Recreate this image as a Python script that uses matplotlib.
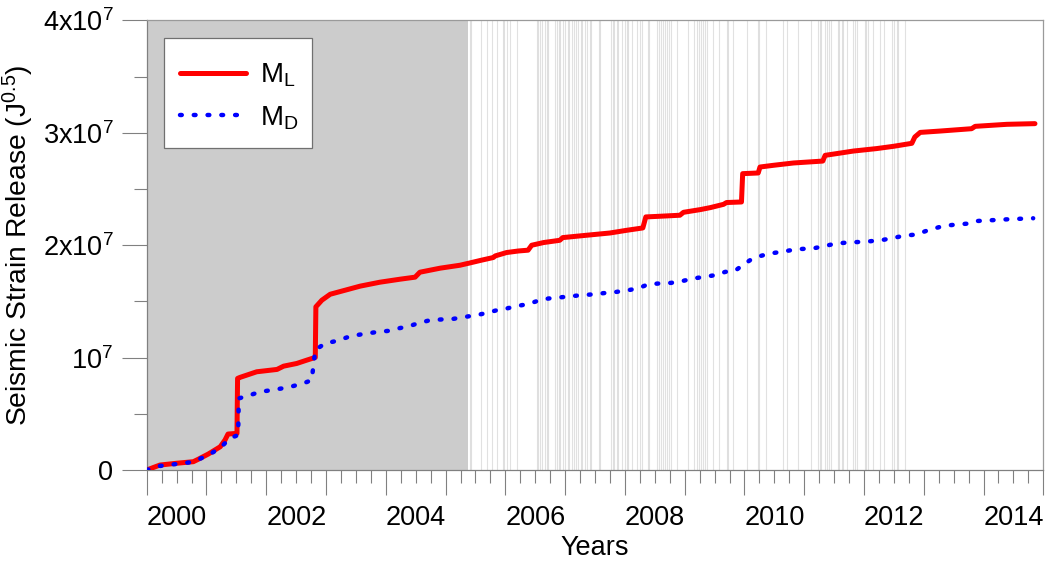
import numpy as np
import matplotlib
matplotlib.use("Agg")
import matplotlib.pyplot as plt
from matplotlib.ticker import MultipleLocator, FuncFormatter
from matplotlib.patches import Rectangle

plt.rcParams['font.family'] = ['Liberation Sans', 'DejaVu Sans']
plt.rcParams['mathtext.fontset'] = 'custom'
plt.rcParams['mathtext.rm'] = 'Liberation Sans'
plt.rcParams['mathtext.it'] = 'Liberation Sans:italic'
plt.rcParams['mathtext.bf'] = 'Liberation Sans:bold'

# Cumulative strain release, M_L (years, units of 1e7 J^0.5)
ml_years = [2000.00, 2000.22, 2000.50, 2000.78, 2000.86, 2001.03, 2001.23, 2001.31, 2001.36,
            2001.51, 2001.52, 2001.56, 2001.84, 2002.18, 2002.29, 2002.51, 2002.68, 2002.82,
            2002.83, 2002.93, 2003.07, 2003.32, 2003.57, 2003.90, 2004.24, 2004.49, 2004.57,
            2004.91, 2005.24, 2005.41, 2005.60, 2005.80, 2005.83, 2006.02, 2006.22, 2006.38,
            2006.44, 2006.64, 2006.91, 2006.96, 2007.36, 2007.75, 2008.03, 2008.30, 2008.35,
            2008.59, 2008.92, 2008.98, 2009.26, 2009.43, 2009.65, 2009.70, 2009.95, 2009.97,
            2010.23, 2010.26, 2010.48, 2010.82, 2011.31, 2011.35, 2011.60, 2011.82, 2012.21,
            2012.49, 2012.80, 2012.85, 2012.94, 2013.27, 2013.80, 2013.86, 2014.39, 2014.86]
ml_vals = [0.000, 0.044, 0.060, 0.074, 0.095, 0.142, 0.207, 0.267, 0.320,
           0.326, 0.815, 0.824, 0.874, 0.895, 0.924, 0.948, 0.978, 1.002,
           1.452, 1.511, 1.564, 1.600, 1.636, 1.671, 1.698, 1.716, 1.760,
           1.796, 1.822, 1.843, 1.867, 1.891, 1.905, 1.935, 1.949, 1.956,
           2.000, 2.024, 2.044, 2.068, 2.089, 2.109, 2.133, 2.154, 2.252,
           2.258, 2.267, 2.293, 2.317, 2.335, 2.364, 2.380, 2.385, 2.637,
           2.643, 2.696, 2.711, 2.732, 2.749, 2.800, 2.820, 2.838, 2.860,
           2.880, 2.907, 2.963, 3.004, 3.016, 3.037, 3.058, 3.076, 3.082]

# Cumulative strain release, M_D
md_years = [2000.00, 2000.22, 2000.77, 2001.03, 2001.23, 2001.39, 2001.53, 2001.54, 2001.73,
            2001.90, 2002.09, 2002.26, 2002.45, 2002.62, 2002.76, 2002.82, 2002.98, 2003.18,
            2003.35, 2003.51, 2003.68, 2003.87, 2004.04, 2004.21, 2004.39, 2004.56, 2004.74,
            2004.94, 2005.13, 2005.33, 2005.52, 2005.69, 2005.86, 2006.02, 2006.20, 2006.38,
            2006.54, 2006.72, 2006.90, 2007.10, 2007.29, 2007.49, 2007.68, 2007.86, 2008.06,
            2008.24, 2008.39, 2008.58, 2008.77, 2008.95, 2009.14, 2009.32, 2009.50, 2009.68,
            2009.84, 2009.97, 2010.11, 2010.25, 2010.42, 2010.60, 2010.78, 2010.96, 2011.16,
            2011.35, 2011.53, 2011.72, 2011.91, 2012.11, 2012.31, 2012.49, 2012.68, 2012.87,
            2013.07, 2013.33, 2013.54, 2013.75, 2013.90, 2014.11, 2014.31, 2014.51, 2014.71,
            2014.83]
md_vals = [0.000, 0.036, 0.071, 0.133, 0.196, 0.282, 0.311, 0.637, 0.667,
           0.696, 0.711, 0.726, 0.747, 0.771, 0.800, 1.067, 1.126, 1.149,
           1.180, 1.200, 1.215, 1.229, 1.238, 1.260, 1.280, 1.309, 1.333,
           1.340, 1.345, 1.363, 1.378, 1.398, 1.422, 1.437, 1.460, 1.476,
           1.505, 1.526, 1.535, 1.547, 1.556, 1.564, 1.576, 1.585, 1.600,
           1.620, 1.653, 1.660, 1.665, 1.680, 1.704, 1.718, 1.733, 1.763,
           1.772, 1.822, 1.873, 1.902, 1.926, 1.940, 1.956, 1.967, 1.973,
           1.994, 2.015, 2.024, 2.029, 2.036, 2.047, 2.065, 2.086, 2.095,
           2.133, 2.172, 2.184, 2.193, 2.216, 2.222, 2.228, 2.234, 2.237,
           2.240]

# shaded period and event times (vertical lines)
shade_start, shade_end = 2000.0, 2005.375
event_years = [2005.41, 2005.43, 2005.59, 2005.69, 2005.78, 2005.86, 2005.96, 2005.98, 2006.02,
               2006.08, 2006.20, 2006.53, 2006.55, 2006.58, 2006.61, 2006.66, 2006.69, 2006.72,
               2006.83, 2006.86, 2006.90, 2006.92, 2006.96, 2007.00, 2007.04, 2007.07, 2007.11,
               2007.15, 2007.19, 2007.22, 2007.26, 2007.29, 2007.33, 2007.37, 2007.42, 2007.43,
               2007.56, 2007.58, 2007.76, 2007.80, 2007.82, 2007.86, 2007.89, 2007.95, 2008.00,
               2008.03, 2008.06, 2008.12, 2008.20, 2008.25, 2008.28, 2008.38, 2008.40, 2008.53,
               2008.57, 2008.60, 2008.64, 2008.67, 2008.70, 2008.74, 2008.77, 2008.87, 2009.06,
               2009.15, 2009.21, 2009.24, 2009.27, 2009.31, 2009.34, 2009.37, 2009.48, 2009.58,
               2009.70, 2009.73, 2009.81, 2010.05, 2010.23, 2010.25, 2010.36, 2010.65, 2010.72,
               2010.89, 2011.11, 2011.23, 2011.27, 2011.28, 2011.35, 2011.38, 2011.42, 2011.45,
               2011.56, 2011.58, 2011.63, 2011.65, 2011.71, 2011.81, 2011.85, 2011.89, 2012.01,
               2012.03, 2012.06, 2012.15, 2012.27, 2012.34, 2012.47, 2012.51, 2012.55, 2012.57,
               2012.69]

ytick_vals = [0, 1e7, 2e7, 3e7, 4e7]
ytick_labels = ['0', r'$10^7$', r'$2\mathrm{x}10^7$', r'$3\mathrm{x}10^7$', r'$4\mathrm{x}10^7$']

fig = plt.figure(figsize=(10.45, 5.61), dpi=100)
ax = fig.add_axes([0.1404, 0.1622, 0.8580, 0.8013])

ax.axvspan(shade_start, shade_end, color='#cccccc', lw=0, zorder=0)
for t in event_years:
    ax.axvline(t, color='#b4b4b4', alpha=0.4, lw=0.8, zorder=1)

ax.plot(ml_years, np.array(ml_vals) * 1e7, color='#ff0000', lw=3.6,
        solid_capstyle='round', solid_joinstyle='round', zorder=3, label=r'M$_\mathrm{L}$')
ax.plot(md_years, np.array(md_vals) * 1e7, color='#0000ff', lw=3.2,
        linestyle=(0, (0.4, 2.7)), dash_capstyle='round', zorder=4, label=r'M$_\mathrm{D}$')

ax.set_xlim(2000, 2015)
ax.set_ylim(0, 4e7)

ax.xaxis.set_major_locator(MultipleLocator(1))
ax.xaxis.set_minor_locator(MultipleLocator(0.25))
ax.xaxis.set_major_formatter(FuncFormatter(lambda v, p: '%d' % round(v) if round(v) % 2 == 0 else ''))
ax.set_yticks(ytick_vals)
ax.set_yticklabels(ytick_labels)
ax.yaxis.set_minor_locator(MultipleLocator(5e6))

ax.tick_params(axis='both', which='major', direction='out', length=18, width=0.8,
               color='#808080', labelsize=19.5, labelcolor='black')
ax.tick_params(axis='both', which='minor', direction='out', length=9.3, width=0.8, color='#808080')
ax.tick_params(axis='x', which='major', pad=7)
ax.tick_params(axis='y', which='major', pad=6)
for lab in ax.get_xticklabels():
    lab.set_horizontalalignment('left')

for s in ax.spines.values():
    s.set_color('#9a9a9a')
    s.set_linewidth(0.9)
ax.spines['left'].set_color('#808080')
ax.spines['bottom'].set_color('#808080')

ax.set_xlabel('Years', fontsize=19.5)
ax.set_ylabel(r'Seismic Strain Release (J$^{0.5}$)', fontsize=20.3)
ax.yaxis.set_label_coords(-0.124, 0.5)
ax.xaxis.set_label_coords(0.5, -0.145)

# legend box drawn separately so its padding matches the original
ax.add_patch(Rectangle((0.0196, 0.7157), 0.1644, 0.246, transform=ax.transAxes,
                       facecolor='white', edgecolor='#707070', lw=0.9, zorder=5))
leg = ax.legend(loc='upper left', bbox_to_anchor=(0.0196, 0.9433), borderaxespad=0,
                fontsize=20, frameon=False, handlelength=2.4,
                handletextpad=0.5, labelspacing=0.55, borderpad=0.55)
leg.set_zorder(6)

fig.savefig('out.png', dpi=100)
